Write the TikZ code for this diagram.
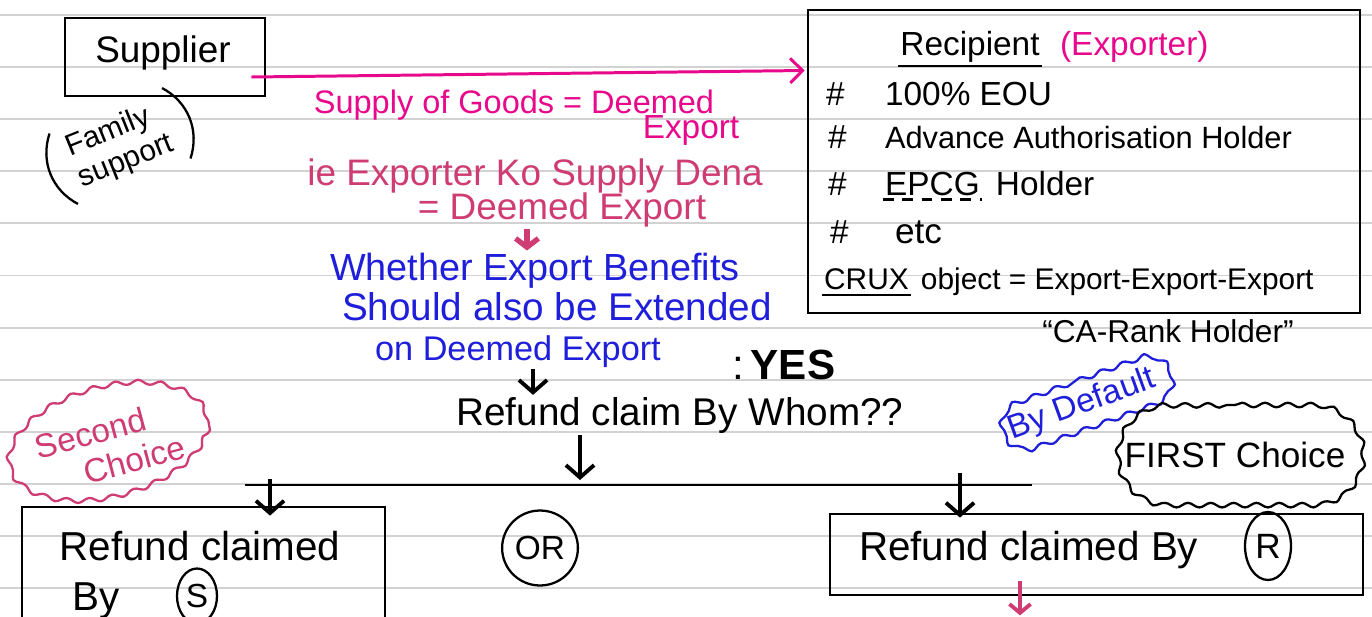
\documentclass[tikz,border=0pt]{standalone}
\usepackage{fontspec}
\setmainfont{Liberation Sans}
\usetikzlibrary{arrows.meta,shapes.geometric,shapes.misc,decorations.pathmorphing,calc}
\definecolor{pinkA}{HTML}{E8088C}
\definecolor{pinkB}{HTML}{CF3C73}
\definecolor{penblue}{HTML}{1F1FDB}
\definecolor{rule}{HTML}{D2D2D2}
\newcommand\fsz[2]{\fontsize{#1}{#2}\selectfont}
\begin{document}
\begin{tikzpicture}[x=0.02cm,y=-0.02cm,
  box/.style={draw, line width=1.6pt, inner sep=0pt},
  barr/.style={line width=2.2pt, -{Straight Barb[length=7pt,width=16pt]}},
  parr/.style={draw=pinkA, line width=1.7pt, -{Straight Barb[length=7pt,width=14pt]}},
  wavy/.style={decorate, decoration={snake, amplitude=1.3pt, segment length=13pt}},
  circ/.style={draw, ellipse, line width=1.3pt, inner sep=1pt},
  txt/.style={inner sep=1pt, anchor=base}
]
\useasboundingbox (0,0) rectangle (1372,616);
\clip (0,0) rectangle (1372,616);
\fill[white] (0,0) rectangle (1372,616);
\foreach \k in {0,...,11}{\draw[rule, line width=1.1pt] (0,{15+52.1*\k}) -- (1372,{15+52.1*\k});}

% helper x coordinates
\coordinate (x270) at (270,0);
\coordinate (x527) at (527,0);
\coordinate (x533) at (533,0);
\coordinate (x580) at (580,0);
\coordinate (x960) at (960,0);
\coordinate (x1020) at (1020,0);

% Supplier
\node[box, minimum width=4cm, minimum height=1.56cm] (sup) at (165,57) {};
\node[txt, font=\fsz{21pt}{24pt}] (supT) at (163,62) {Supplier};
\node[rotate=22, font=\fsz{17pt}{19pt}, align=left, inner xsep=6pt, inner ysep=4pt] (fam) at (120,146) {Family\\support};
\draw[line width=1.3pt] (fam.north west) to[bend right=40] (fam.south west);
\draw[line width=1.3pt] (fam.north east) to[bend left=40] (fam.south east);

% Recipient box
\node[box, minimum width=11.04cm, minimum height=6.06cm] (rec) at (1084,161.5) {};
\node[txt, font=\fsz{19pt}{22pt}] (recT) at (970,55) {Recipient};
\draw[line width=1.3pt] ([yshift=-1pt]recT.south west) -- ([yshift=-1pt]recT.south east);
\node[txt, anchor=base west, font=\fsz{19pt}{22pt}, text=pinkA] (exp) at (1058,55) {(Exporter)};
\node[txt, anchor=base west, font=\fsz{19pt}{22pt}] (h1) at (824,105) {\#};
\node[txt, anchor=base west, font=\fsz{19pt}{22pt}] (h2) at (826,148) {\#};
\node[txt, anchor=base west, font=\fsz{19pt}{22pt}] (h3) at (826,195) {\#};
\node[txt, anchor=base west, font=\fsz{19pt}{22pt}] (h4) at (828,243) {\#};
\node[txt, anchor=base west, font=\fsz{19pt}{22pt}] (l1) at (883,105) {100\% EOU};
\node[txt, anchor=base west, font=\fsz{17.5pt}{20pt}] (l2) at (883,148) {Advance Authorisation Holder};
\node[txt, anchor=base west, font=\fsz{19pt}{22pt}] (l3a) at (883,195) {EPCG};
\node[txt, anchor=base west, font=\fsz{19pt}{22pt}] (l3b) at ($(l3a.base east)+(12,0)$) {Holder};
\draw[line width=1.5pt, dash pattern=on 6pt off 5pt] ([yshift=-1pt]l3a.south west) -- ([yshift=-1pt]l3a.south east);
\node[txt, anchor=base west, font=\fsz{20pt}{22pt}] (l4) at (893,243) {etc};
\node[txt, anchor=base west, font=\fsz{17pt}{20pt}] (c1) at (822,289) {CRUX};
\draw[line width=1.3pt] ([yshift=-2pt]c1.south west) -- ([yshift=-2pt]c1.south east);
\node[txt, anchor=base west, font=\fsz{17pt}{20pt}] (c2) at ($(c1.base east)+(8,0)$) {object = Export-Export-Export};
\node[txt, font=\fsz{18pt}{20pt}] (ca) at (1168,342) {``CA-Rank Holder''};

% main pink arrow
\draw[parr] ($(sup.east)+(-15,20)$) -- ($(rec.west)+(-2,-91)$);

% pink notes
\node[txt, font=\fsz{18.5pt}{21pt}, text=pinkA] (g1) at (514,113) {Supply of Goods = Deemed};
\node[txt, font=\fsz{19pt}{21pt}, text=pinkA] (g2) at (691,138) {Export};
\node[txt, font=\fsz{21pt}{24pt}, text=pinkB] (g3) at (535,185) {ie Exporter Ko Supply Dena};
\node[txt, font=\fsz{21pt}{24pt}, text=pinkB] (g4) at (562,219) {= Deemed Export};

% blue question
\node[txt, font=\fsz{21.5pt}{24pt}, text=penblue] (q1) at (535,280) {Whether Export Benefits};
\node[txt, font=\fsz{22pt}{24pt}, text=penblue] (q2) at (557,320) {Should also be Extended};
\node[txt, font=\fsz{19.5pt}{22pt}, text=penblue] (q3) at (518,360) {on Deemed Export};
\node[txt, anchor=base west, font=\fsz{24pt}{26pt}] (yes) at (730,379) {:\,\textbf{YES}};
\draw[line width=3pt, draw=pinkB, -{Straight Barb[length=5pt,width=13pt]}] (g4.south -| x527) -- (q1.north -| x527);

% refund claim
\node[txt, font=\fsz{22pt}{24pt}] (rc) at (680,425) {Refund claim By Whom??};
\draw[barr] (q3.south -| x533) -- (rc.north -| x533);
\coordinate (hL) at (245,485);
\coordinate (hR) at (1032,485);
\draw[line width=1.6pt] (hL) -- (hR);
\draw[barr] (rc.south -| x580) -- ($(hL -| x580)+(0,-5)$);

% left box
\node[box, minimum width=7.26cm, minimum height=2.66cm] (ls) at (203.5,573.5) {};
\node[txt, font=\fsz{23pt}{25pt}] (ls1) at (200,560) {Refund claimed};
\node[txt, anchor=base west, font=\fsz{23pt}{25pt}] (ls2) at (70,610) {By};
\node[circ, minimum width=0.8cm, minimum height=1.1cm, font=\fsz{19pt}{21pt}] (cS) at (197,596) {S};
\draw[barr] ($(hL -| x270)+(0,-6)$) -- ($(ls.north -| x270)+(0,10)$);

% OR
\node[circ, minimum width=1.1cm, minimum height=1.5cm, font=\fsz{19pt}{21pt}] (or) at (540,548) {OR};

% right box
\node[box, minimum width=10.66cm, minimum height=1.62cm] (rr) at (1096.5,554.5) {};
\node[txt, anchor=base west, font=\fsz{23pt}{25pt}] (rr1) at (857,560) {Refund claimed By};
\node[circ, minimum width=0.92cm, minimum height=1.36cm, font=\fsz{20pt}{22pt}] (cR) at (1268,546) {R};
\draw[barr] ($(hL -| x960)+(0,-12)$) -- ($(rr.north -| x960)+(0,5)$);
\draw[line width=2.2pt, draw=pinkB, -{Straight Barb[length=5pt,width=12pt]}] ($(rr.south -| x1020)+(0,-15)$) -- ($(rr.south -| x1020)+(0,19)$);

% clouds
\node[ellipse, draw=pinkB, line width=1.3pt, wavy, rotate=15, minimum width=3.9cm, minimum height=2.2cm, text=pinkB, font=\fsz{19pt}{21pt}, align=left, inner sep=0pt] (sc) at (110,447) {Second\\\hspace*{1.2em}Choice};
\node[rounded rectangle, draw=penblue, line width=1.3pt, wavy, rotate=20, text=penblue, font=\fsz{19pt}{21pt}, inner xsep=4pt, inner ysep=5pt] (bd) at (1082,405) {By Default};
\node[rounded rectangle, draw, line width=1.3pt, wavy, font=\fsz{20pt}{22pt}, minimum width=5.05cm, minimum height=2cm, inner xsep=2pt] (fc) at (1235,455) {FIRST Choice};
\end{tikzpicture}
\end{document}
